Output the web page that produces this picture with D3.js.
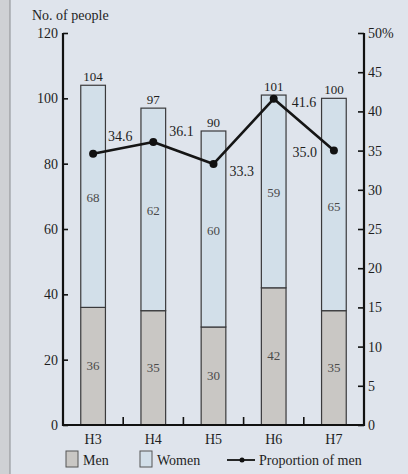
<!DOCTYPE html>
<html>
<head>
<meta charset="utf-8">
<script src="https://cdn.jsdelivr.net/npm/d3@7"></script>
<style>
  html, body { margin: 0; padding: 0; background: #dfe4ec; }
  svg { display: block; }
  text { font-family: "Liberation Serif", "DejaVu Serif", serif; fill: #1e1e1e; }
</style>
</head>
<body>
<svg id="chart" width="408" height="474"></svg>
<script>
// Survey years and headcounts by gender
const categories = ["H3", "H4", "H5", "H6", "H7"];
const men = [36, 35, 30, 42, 35];
const women = [68, 62, 60, 59, 65];
const totals = [104, 97, 90, 101, 100];
const proportionMen = [34.6, 36.1, 33.3, 41.6, 35.0];
const leftTicks = [0, 20, 40, 60, 80, 100, 120];
const rightTicks = [0, 5, 10, 15, 20, 25, 30, 35, 40, 45, 50];

const svg = d3.select("#chart");

// left frame strip
svg.append("rect").attr("x", 0).attr("y", 0).attr("width", 10).attr("height", 474).attr("fill", "#cfd1d4");
svg.append("line").attr("x1", 10).attr("x2", 10).attr("y1", 0).attr("y2", 474)
  .attr("stroke", "#8a8c90").attr("stroke-width", 1);

const plotLeft = 63, plotRight = 364, plotTop = 33, plotBottom = 425;

const x = d3.scaleBand().domain(categories).range([plotLeft, plotRight])
  .paddingInner(0.59).paddingOuter(0.295);
const yL = d3.scaleLinear().domain([0, 120]).range([plotBottom, plotTop]);
const yR = d3.scaleLinear().domain([0, 50]).range([plotBottom, plotTop]);

const menColor = "#c9c7c4", womenColor = "#d2dfe9", barStroke = "#3a3a3c";

const rows = categories.map((c, i) => ({ c, men: men[i], women: women[i], total: totals[i], p: proportionMen[i] }));

// stacked bars
const g = svg.append("g");
rows.forEach(d => {
  const x0 = x(d.c), w = x.bandwidth();
  g.append("rect").attr("x", x0).attr("y", yL(d.men)).attr("width", w)
    .attr("height", yL(0) - yL(d.men)).attr("fill", menColor)
    .attr("stroke", barStroke).attr("stroke-width", 1.2);
  g.append("rect").attr("x", x0).attr("y", yL(d.men + d.women)).attr("width", w)
    .attr("height", yL(d.men) - yL(d.men + d.women)).attr("fill", womenColor)
    .attr("stroke", barStroke).attr("stroke-width", 1.2);
  const cx = x0 + w / 2;
  g.append("text").attr("x", cx).attr("y", yL(d.men / 2) + 4).attr("text-anchor", "middle")
    .attr("font-size", 13).style("fill", "#4a4a4a").text(d.men);
  g.append("text").attr("x", cx).attr("y", yL(d.men + d.women / 2) + 6).attr("text-anchor", "middle")
    .attr("font-size", 13).style("fill", "#4a4a4a").text(d.women);
  g.append("text").attr("x", cx).attr("y", yL(d.total) - 4).attr("text-anchor", "middle")
    .attr("font-size", 13).text(d.total);
});

// left axis (ticks point inward)
const axL = svg.append("g").attr("transform", `translate(${plotLeft},0)`)
  .call(d3.axisRight(yL).tickValues(leftTicks).tickSize(5).tickFormat(""));
axL.select(".domain").remove();
axL.selectAll(".tick line").attr("stroke", "#111").attr("stroke-width", 1.6);
svg.append("line").attr("x1", plotLeft).attr("x2", plotLeft).attr("y1", plotTop).attr("y2", plotBottom + 1)
  .attr("stroke", "#111").attr("stroke-width", 2.2);
leftTicks.forEach(v => {
  svg.append("text").attr("x", plotLeft - 5).attr("y", yL(v) + 5).attr("text-anchor", "end")
    .attr("font-size", 14).text(v);
});

// right axis (ticks point inward)
const axR = svg.append("g").attr("transform", `translate(${plotRight},0)`)
  .call(d3.axisLeft(yR).tickValues(rightTicks).tickSize(6).tickFormat(""));
axR.select(".domain").remove();
axR.selectAll(".tick line").attr("stroke", "#111").attr("stroke-width", 1.6);
svg.append("line").attr("x1", plotRight).attr("x2", plotRight).attr("y1", plotTop).attr("y2", plotBottom + 1)
  .attr("stroke", "#111").attr("stroke-width", 2.2);
rightTicks.forEach(v => {
  svg.append("text").attr("x", plotRight + 4).attr("y", yR(v) + 5).attr("text-anchor", "start")
    .attr("font-size", 14).text(v === 50 ? "50%" : v);
});

// bottom axis with small upward ticks between categories
svg.append("line").attr("x1", plotLeft).attr("x2", plotRight).attr("y1", plotBottom).attr("y2", plotBottom)
  .attr("stroke", "#111").attr("stroke-width", 2.2);
categories.slice(1).forEach(c => {
  const bx = x(c) - x.step() * x.paddingInner() / 2;
  svg.append("line").attr("x1", bx).attr("x2", bx).attr("y1", plotBottom).attr("y2", plotBottom - 8)
    .attr("stroke", "#111").attr("stroke-width", 1.6);
});
categories.forEach(c => {
  svg.append("text").attr("x", x(c) + x.bandwidth() / 2).attr("y", 444).attr("text-anchor", "middle")
    .attr("font-size", 14).text(c);
});

// axis title
svg.append("text").attr("x", 32).attr("y", 20).attr("font-size", 14).text("No. of people");

// proportion line
const cxOf = d => x(d.c) + x.bandwidth() / 2;
svg.append("path").datum(rows)
  .attr("d", d3.line().x(cxOf).y(d => yR(d.p)))
  .attr("fill", "none").attr("stroke", "#151515").attr("stroke-width", 2.6).attr("stroke-linejoin", "round");
svg.selectAll("circle.pt").data(rows).join("circle").attr("class", "pt")
  .attr("cx", cxOf).attr("cy", d => yR(d.p)).attr("r", 4).attr("fill", "#111");

// proportion labels
const labelOffsets = [[15, -13, "start"], [16, -6, "start"], [16, 12, "start"], [18, 8, "start"], [-17, 6, "end"]];
rows.forEach((d, i) => {
  const [dx, dy, anchor] = labelOffsets[i];
  svg.append("text").attr("x", cxOf(d) + dx).attr("y", yR(d.p) + dy).attr("text-anchor", anchor)
    .attr("font-size", 14).text(d.p.toFixed(1));
});

// legend
const ly = 461;
svg.append("rect").attr("x", 66).attr("y", ly - 10).attr("width", 12).attr("height", 16)
  .attr("fill", menColor).attr("stroke", "#555").attr("stroke-width", 1);
svg.append("text").attr("x", 83).attr("y", ly + 4).attr("font-size", 14).text("Men");
svg.append("rect").attr("x", 140).attr("y", ly - 10).attr("width", 12).attr("height", 16)
  .attr("fill", womenColor).attr("stroke", "#555").attr("stroke-width", 1);
svg.append("text").attr("x", 157).attr("y", ly + 4).attr("font-size", 14).text("Women");
svg.append("line").attr("x1", 227).attr("x2", 255).attr("y1", ly - 1).attr("y2", ly - 1)
  .attr("stroke", "#111").attr("stroke-width", 1.8);
svg.append("circle").attr("cx", 242).attr("cy", ly - 1).attr("r", 2.5).attr("fill", "#111");
svg.append("text").attr("x", 259).attr("y", ly + 4).attr("font-size", 14).text("Proportion of men");
</script>
</body>
</html>
